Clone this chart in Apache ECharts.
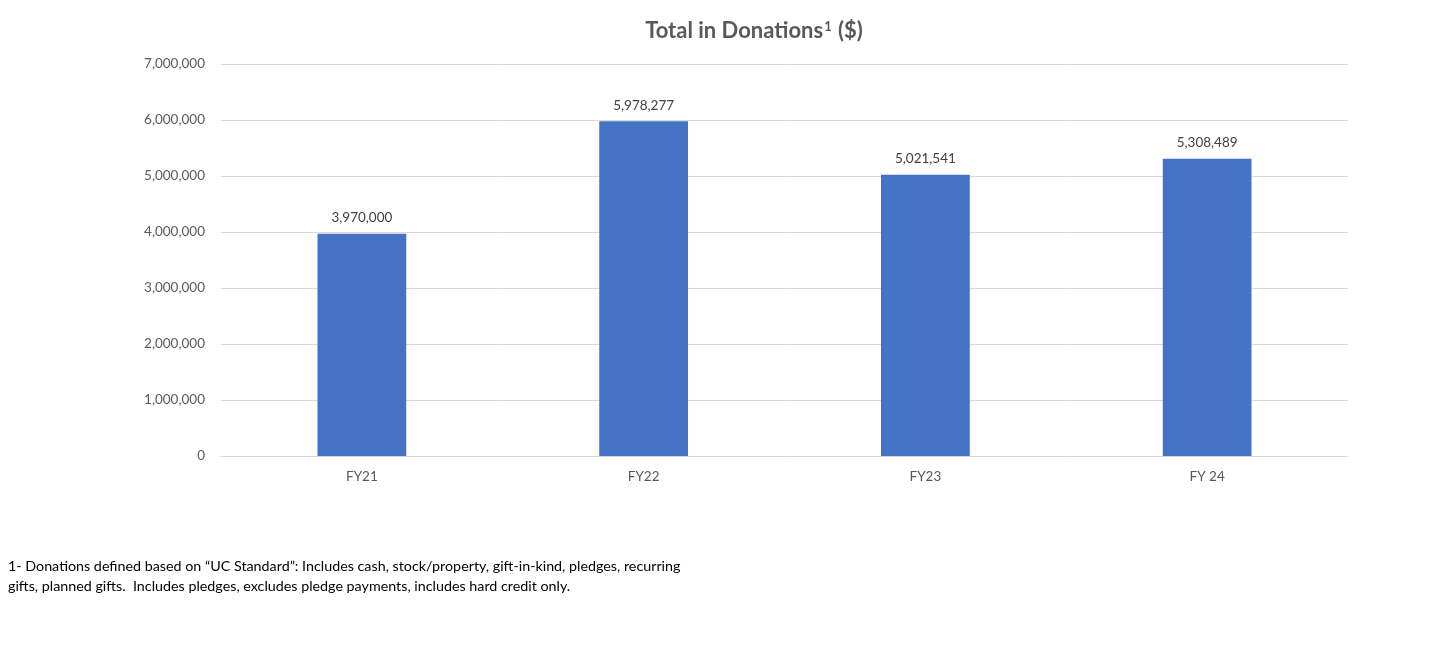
<!DOCTYPE html>
<html>
<head>
<meta charset="utf-8">
<script src="https://cdn.jsdelivr.net/npm/echarts@6/dist/echarts.min.js"></script>
<style>
html,body{margin:0;padding:0;background:#fff;}
#chart{width:1430px;height:650px;}
</style>
</head>
<body>
<div id="chart"></div>
<script>
const categories = ['FY21', 'FY22', 'FY23', 'FY 24'];
const donations = [3970000, 5978277, 5021541, 5308489];
const yTicks = [0, 1000000, 2000000, 3000000, 4000000, 5000000, 6000000, 7000000];
const titleMain = 'Total in Donations';
const footnoteLines = [
  '1- Donations defined based on \u201CUC Standard\u201D: Includes cash, stock/property, gift-in-kind, pledges, recurring',
  'gifts, planned gifts.  Includes pledges, excludes pledge payments, includes hard credit only.'
];

const FONT = 'Lato, "Open Sans", sans-serif';
const fmt = v => v.toLocaleString('en-US');

const chart = echarts.init(document.getElementById('chart'));
chart.setOption({
  animation: false,
  backgroundColor: '#ffffff',
  title: {
    text: '{t|' + titleMain + '}{s|1}{t| ($)}',
    left: 749,
    top: 15,
    textAlign: 'center',
    textStyle: {
      rich: {
        t: { fontFamily: FONT, fontSize: 22, fontWeight: 'bold', color: '#595959', verticalAlign: 'bottom' },
        s: { fontFamily: FONT, fontSize: 13, fontWeight: 'bold', color: '#595959', verticalAlign: 'top', padding: [0, 1, 9, 1] }
      }
    }
  },
  grid: { left: 221, right: 82, top: 64, bottom: 194, containLabel: false },
  xAxis: {
    type: 'category',
    data: categories,
    axisLine: { show: true, lineStyle: { color: '#d9d9d9', width: 1 } },
    axisTick: { show: false },
    axisLabel: { color: '#595959', fontFamily: FONT, fontSize: 13.5, margin: 14 }
  },
  yAxis: {
    type: 'value',
    min: yTicks[0],
    max: yTicks[yTicks.length - 1],
    interval: yTicks[1] - yTicks[0],
    axisLine: { show: false },
    axisTick: { show: false },
    splitLine: { lineStyle: { color: '#d9d9d9', width: 1 } },
    axisLabel: { color: '#595959', fontFamily: FONT, fontSize: 13.5, margin: 16, formatter: v => fmt(v) }
  },
  series: [{
    type: 'bar',
    data: donations,
    barWidth: '31.5%',
    itemStyle: { color: '#4472C4' },
    label: {
      show: true,
      position: 'top',
      distance: 9,
      color: '#404040',
      fontFamily: FONT,
      fontSize: 13.5,
      formatter: p => fmt(p.value)
    }
  }],
  graphic: footnoteLines.map((line, i) => ({
    type: 'text',
    left: 8,
    top: 559 + i * 20,
    style: { text: line, fill: '#000000', font: '14.3px ' + FONT }
  }))
});
</script>
</body>
</html>
